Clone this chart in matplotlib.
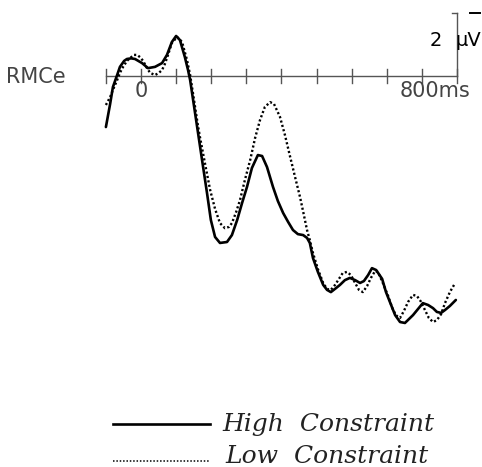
import matplotlib
matplotlib.use("Agg")
import matplotlib.pyplot as plt

# ERP waveforms at RMCe (ms, microvolts, negative up)
high_ms = [-100, -88, -80, -68, -60, -48, -40, -28, -17, 3, 20, 40, 60, 74, 88, 100,
           111, 125, 134, 140, 160, 174, 188, 199, 211, 225, 245, 259, 274, 288, 302,
           316, 333, 345, 359, 376, 390, 405, 419, 433, 447, 462, 473, 481, 490, 504,
           519, 530, 541, 556, 567, 581, 595, 610, 624, 635, 647, 658, 670, 687, 698,
           709, 724, 738, 752, 764, 775, 789, 803, 818, 832, 843, 855, 866, 880, 897]
high_uv = [1.62, 0.89, 0.35, -0.03, -0.29, -0.48, -0.54, -0.56, -0.54, -0.41, -0.25,
           -0.29, -0.41, -0.67, -1.08, -1.27, -1.14, -0.60, -0.19, 0.13, 1.62, 2.67,
           3.71, 4.57, 5.11, 5.30, 5.27, 5.05, 4.57, 4.03, 3.52, 2.92, 2.51, 2.54,
           2.89, 3.52, 3.97, 4.35, 4.63, 4.89, 5.02, 5.05, 5.14, 5.30, 5.78, 6.22,
           6.63, 6.79, 6.86, 6.73, 6.63, 6.48, 6.41, 6.48, 6.57, 6.51, 6.32, 6.10,
           6.16, 6.44, 6.86, 7.17, 7.59, 7.81, 7.84, 7.71, 7.59, 7.40, 7.21, 7.27,
           7.37, 7.49, 7.52, 7.43, 7.30, 7.11]

low_ms = [-100, -88, -80, -68, -60, -51, -40, -31, -20, -11, -3, 6, 17, 26, 40, 51,
          60, 68, 77, 88, 103, 117, 131, 140, 148, 162, 168, 182, 197, 211, 225, 239,
          251, 259, 271, 282, 296, 311, 325, 339, 353, 368, 379, 396, 410, 425, 439,
          453, 464, 473, 481, 490, 504, 519, 530, 541, 553, 564, 575, 587, 598, 610,
          621, 632, 644, 655, 667, 675, 689, 704, 718, 729, 738, 749, 761, 775, 786,
          798, 809, 820, 832, 843, 855, 866, 880, 892]
low_uv = [0.92, 0.67, 0.44, 0.13, -0.10, -0.29, -0.48, -0.57, -0.67, -0.67, -0.60,
          -0.48, -0.25, -0.10, -0.03, -0.10, -0.19, -0.38, -0.67, -1.05, -1.24, -1.08,
          -0.51, -0.03, 0.54, 1.56, 1.94, 2.76, 3.62, 4.22, 4.67, 4.83, 4.79, 4.67,
          4.32, 3.94, 3.30, 2.67, 1.97, 1.40, 0.98, 0.83, 0.89, 1.30, 1.87, 2.57,
          3.21, 3.84, 4.41, 4.89, 5.21, 5.62, 6.13, 6.57, 6.76, 6.79, 6.63, 6.44,
          6.25, 6.22, 6.32, 6.57, 6.79, 6.86, 6.67, 6.41, 6.19, 6.22, 6.57, 6.98,
          7.43, 7.62, 7.68, 7.46, 7.17, 6.95, 6.98, 7.17, 7.43, 7.68, 7.81, 7.75,
          7.56, 7.21, 6.86, 6.63]

tick_ms = list(range(-100, 1000, 100))
series_names = ["High  Constraint", "Low  Constraint"]

W, H = 482, 467
fig = plt.figure(figsize=(W / 100, H / 100), dpi=100)

# main axes: 0 ms at x=141 px, 35.1 px per 100 ms; baseline at y=76 px, 31.5 px per uV
px_ms = 0.351
px_uv = 31.5
ax = fig.add_axes([0, 0, 1, 1])
ax.set_xlim(-141 / px_ms, (W - 141) / px_ms)
ax.set_ylim((H - 76) / px_uv, -76 / px_uv)
ax.axis("off")

grey = "#555555"
txt = "#444444"

# time axis with ticks
ax.plot([tick_ms[0], tick_ms[-1]], [0, 0], color=grey, lw=1.0)
for t in tick_ms:
    ax.plot([t, t], [-0.22, 0.22], color=grey, lw=1.0)

# calibration bar (2 uV)
ax.plot([900, 900], [0, -2], color=grey, lw=1.0)
ax.plot([886, 900], [-2, -2], color=grey, lw=1.0)

ax.plot(high_ms, high_uv, color="black", lw=1.9, solid_capstyle="round")
ax.plot(low_ms, low_uv, color="black", lw=1.7, linestyle=(0, (0.9, 1.0)))

ax.text(0, 0.48, "0", fontsize=15, color=txt, ha="center", va="center",
        family="DejaVu Sans")
ax.text(738, 0.48, "800ms", fontsize=15, color=txt, ha="left", va="center",
        family="DejaVu Sans")

# overlay in pixel units for labels and legend
ov = fig.add_axes([0, 0, 1, 1])
ov.set_xlim(0, W)
ov.set_ylim(H, 0)
ov.axis("off")
ov.patch.set_alpha(0)

ov.text(6, 77, "RMCe", fontsize=15, color=txt, ha="left", va="center",
        family="DejaVu Sans")
ov.text(436, 41, "2", fontsize=14, color="black", ha="center", va="center",
        family="DejaVu Sans")
ov.text(468, 41, "\u03bcV", fontsize=14, color="black", ha="center", va="center",
        family="DejaVu Sans")
ov.plot([470, 480], [13, 13], color="black", lw=1.4)

# legend
ov.plot([113, 210], [424, 424], color="black", lw=1.9)
ov.plot([113, 210], [461, 461], color="black", lw=1.1, linestyle=(0, (1, 1.2)))
ov.text(222, 431, series_names[0], fontsize=18, style="italic", family="DejaVu Serif",
        ha="left", va="baseline", color="#222222")
ov.text(225, 463, series_names[1], fontsize=18, style="italic", family="DejaVu Serif",
        ha="left", va="baseline", color="#222222")

fig.savefig("out.png", dpi=100, facecolor="white")
